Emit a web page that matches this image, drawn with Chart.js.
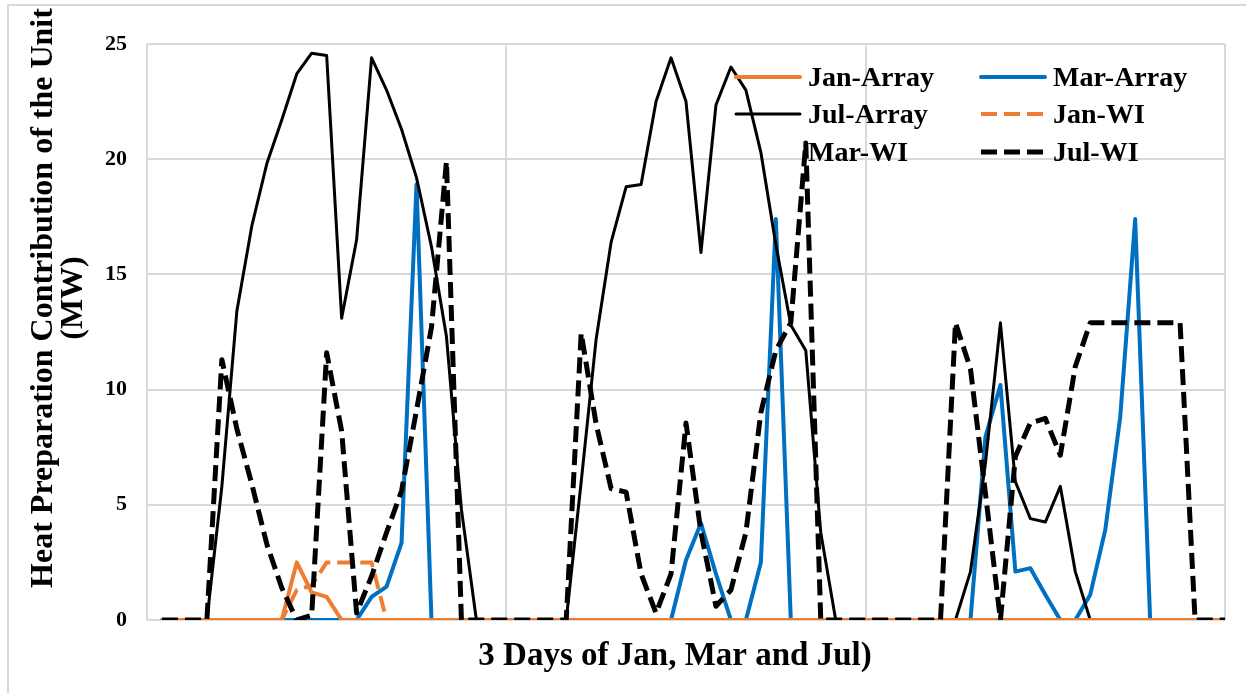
<!DOCTYPE html>
<html>
<head>
<meta charset="utf-8">
<script src="https://cdn.jsdelivr.net/npm/chart.js@4.4.1/dist/chart.umd.min.js"></script>
<style>
  html, body { margin: 0; padding: 0; background: #fff; overflow: hidden; }
  #wrap { position: relative; width: 1246px; height: 693px; overflow: hidden; }
  #frame { position: absolute; left: 7px; top: 4px; width: 1300px; height: 800px; border: 2px solid #d9d9d9; }
  canvas { position: absolute; left: 0; top: 0; }
</style>
</head>
<body>
<div id="wrap">
  <div id="frame"></div>
  <canvas id="chart" width="1246" height="693"></canvas>
</div>
<script>
// hours of the three sample days (x positions 1..72)
const HOURS = [
  1, 2, 3, 4, 5, 6, 7, 8, 9, 10, 11, 12, 13, 14, 15, 16, 17, 18, 19, 20, 21, 22, 23, 24,
  25, 26, 27, 28, 29, 30, 31, 32, 33, 34, 35, 36, 37, 38, 39, 40, 41, 42, 43, 44, 45, 46, 47, 48,
  49, 50, 51, 52, 53, 54, 55, 56, 57, 58, 59, 60, 61, 62, 63, 64, 65, 66, 67, 68, 69, 70, 71, 72,
];

const JAN_ARRAY = [
  0, 0, 0, 0, 0, 0, 0, 0, 0, 2.5, 1.2, 1.0, 0, 0, 0, 0, 0, 0, 0, 0, 0, 0, 0, 0,
  0, 0, 0, 0, 0, 0, 0, 0, 0, 0, 0, 0, 0, 0, 0, 0, 0, 0, 0, 0, 0, 0, 0, 0,
  0, 0, 0, 0, 0, 0, 0, 0, 0, 0, 0, 0, 0, 0, 0, 0, 0, 0, 0, 0, 0, 0, 0, 0,
];
const MAR_ARRAY = [
  0, 0, 0, 0, 0, 0, 0, 0, 0, 0, 0, 0, 0, 0, 1.0, 1.45, 3.35, 18.9, 0, 0, 0, 0, 0, 0,
  0, 0, 0, 0, 0, 0, 0, 0, 0, 0, 0, 2.6, 4.2, 2.0, 0, 0, 2.5, 17.4, 0, 0, 0, 0, 0, 0,
  0, 0, 0, 0, 0, 0, 0, 7.95, 10.2, 2.1, 2.25, 1.1, 0, 0, 1.1, 3.9, 8.8, 17.4, 0, 0, 0, 0, 0, 0,
];
const JUL_ARRAY = [
  0, 0, 0, 0, 5.8, 13.4, 17.1, 19.8, 21.7, 23.7, 24.6, 24.5, 13.1, 16.5, 24.4, 23.0, 21.3, 19.2, 16.2, 12.3, 4.8, 0, 0, 0,
  0, 0, 0, 0, 6.0, 12.2, 16.4, 18.8, 18.9, 22.5, 24.4, 22.5, 15.95, 22.35, 24.0, 23.0, 20.3, 16.3, 12.8, 11.7, 3.8, 0, 0, 0,
  0, 0, 0, 0, 0, 0, 2.1, 6.8, 12.9, 6.0, 4.4, 4.25, 5.8, 2.1, 0, 0, 0, 0, 0, 0, 0, 0, 0, 0,
];
const JAN_WI = [
  0, 0, 0, 0, 0, 0, 0, 0, 0, 1.3, 1.5, 2.5, 2.5, 2.5, 2.5, 0, 0, 0, 0, 0, 0, 0, 0, 0,
  0, 0, 0, 0, 0, 0, 0, 0, 0, 0, 0, 0, 0, 0, 0, 0, 0, 0, 0, 0, 0, 0, 0, 0,
  0, 0, 0, 0, 0, 0, 0, 0, 0, 0, 0, 0, 0, 0, 0, 0, 0, 0, 0, 0, 0, 0, 0, 0,
];
const MAR_WI = [
  0, 0, 0, 0, 0, 0, 0, 0, 0, 0, 0, 0, 0, 0, 0, 0, 0, 0, 0, 0, 0, 0, 0, 0,
  0, 0, 0, 0, 0, 0, 0, 0, 0, 0, 0, 0, 0, 0, 0, 0, 0, 0, 0, 0, 0, 0, 0, 0,
  0, 0, 0, 0, 0, 0, 0, 0, 0, 0, 0, 0, 0, 0, 0, 0, 0, 0, 0, 0, 0, 0, 0, 0,
];
const JUL_WI = [
  0, 0, 0, 0, 11.3, 8.3, 5.9, 3.3, 1.4, 0, 0.2, 11.6, 8.2, 0.3, 1.9, 3.8, 5.6, 9.1, 12.7, 19.9, 0, 0, 0, 0,
  0, 0, 0, 0, 12.45, 8.5, 5.7, 5.55, 2.0, 0.3, 2.0, 8.55, 3.8, 0.6, 1.3, 3.8, 9.0, 11.7, 12.9, 20.7, 0, 0, 0, 0,
  0, 0, 0, 0, 0, 12.9, 10.9, 5.5, 0, 7.1, 8.55, 8.75, 7.15, 11.0, 12.9, 12.9, 12.9, 12.9, 12.9, 12.9, 12.9, 0, 0, 0,
];

const Y_TICKS_STEP = 5;
const Y_TITLE = ['Heat Preparation Contribution of the Unit', '(MW)'];
const X_TITLE = '3 Days of Jan, Mar and Jul)';

const FONT = '"Liberation Serif", "Times New Roman", serif';
const ORANGE = '#ED7D31';
const BLUE = '#0070C0';

function el(id) { return document.getElementById(id); }

// legend is drawn by hand: 2 columns x 3 rows inside the plot
const legendBox = {
  id: 'legendBox',
  afterDraw(chart) {
    const c = chart.ctx;
    const rows = [77, 114, 152];
    const cols = [{ x0: 736, x1: 800, tx: 808 }, { x0: 981, x1: 1045, tx: 1053 }];
    c.save();
    c.font = `bold 28px ${FONT}`;
    c.textBaseline = 'alphabetic';
    c.textAlign = 'left';
    chart.data.datasets.forEach((ds, k) => {
      const y = rows[Math.floor(k / 2)];
      const col = cols[k % 2];
      c.beginPath();
      c.setLineDash(ds.borderDash || []);
      c.lineCap = ds.borderDash ? 'butt' : 'round';
      c.strokeStyle = ds.borderColor;
      c.lineWidth = ds.borderWidth;
      c.moveTo(col.x0, y);
      c.lineTo(col.x1, y);
      c.stroke();
      c.setLineDash([]);
      c.fillStyle = '#000';
      c.fillText(ds.label, col.tx, y + 9);
    });
    c.restore();
  },
};

const axisTitles = {
  id: 'axisTitles',
  afterDraw(chart) {
    const c = chart.ctx;
    c.save();
    c.fillStyle = '#000';
    c.font = `bold 33px ${FONT}`;
    c.textAlign = 'center';
    c.textBaseline = 'alphabetic';
    c.fillText(X_TITLE, 675, 665);
    c.font = `bold 32px ${FONT}`;
    c.translate(0, 298);
    c.rotate(-Math.PI / 2);
    c.fillText(Y_TITLE[0], 0, 52);
    c.fillText(Y_TITLE[1], 0, 82);
    c.restore();
  },
};

// order: lower draws on top (Jul-WI dashes over the rest, like the source)
function line(label, data, color, width, dash, order) {
  return {
    label, data, order,
    borderColor: color, backgroundColor: color,
    borderWidth: width,
    borderDash: dash,
    borderJoinStyle: 'round',
    borderCapStyle: dash ? 'butt' : 'round',
    pointRadius: 0, pointHoverRadius: 0,
    tension: 0, fill: false,
  };
}

new Chart(el('chart').getContext('2d'), {
  type: 'line',
  data: {
    labels: HOURS,
    datasets: [
      line('Jan-Array', JAN_ARRAY, ORANGE, 4, undefined, 1),
      line('Mar-Array', MAR_ARRAY, BLUE, 4, undefined, 4),
      line('Jul-Array', JUL_ARRAY, '#000', 3, undefined, 3),
      line('Jan-WI', JAN_WI, ORANGE, 4, [16, 7], 2),
      line('Mar-WI', MAR_WI, 'rgba(0,0,0,0)', 4, [16, 7], 5),
      line('Jul-WI', JUL_WI, '#000', 5, [16, 7], 0),
    ],
  },
  options: {
    responsive: false,
    animation: false,
    layout: { padding: { top: 44, right: 21, left: 0, bottom: 0 } },
    plugins: { legend: { display: false }, tooltip: { enabled: false } },
    scales: {
      x: {
        type: 'linear', min: 0, max: 72,
        ticks: { display: false, stepSize: 24 },
        grid: { color: '#d9d9d9', lineWidth: 2, drawTicks: false },
        border: { display: false },
        afterFit: s => { s.height = 73; },
      },
      y: {
        min: 0, max: 25,
        ticks: { stepSize: Y_TICKS_STEP, padding: 20, color: '#000', font: { family: FONT, size: 22, weight: 'bold' } },
        grid: { color: '#d9d9d9', lineWidth: 2, drawTicks: false },
        border: { display: false },
        afterFit: s => { s.width = 147; },
      },
    },
  },
  plugins: [axisTitles, legendBox],
});
</script>
</body>
</html>
